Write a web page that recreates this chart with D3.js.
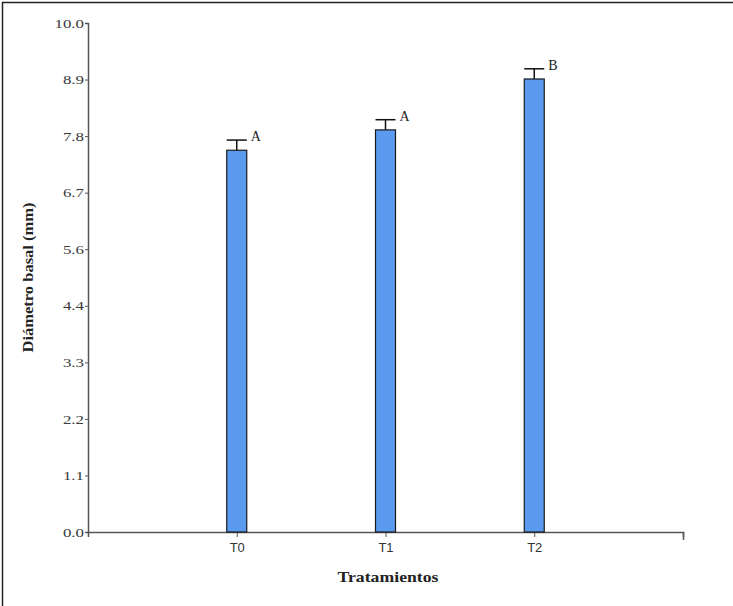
<!DOCTYPE html>
<html>
<head>
<meta charset="utf-8">
<script src="https://cdn.jsdelivr.net/npm/d3@7"></script>
<style>
  body { margin: 0; background: #fff; }
  svg { display: block; }
</style>
</head>
<body>
<div id="chart"></div>
<script>
// data
const treatments = ["T0", "T1", "T2"];
const means = [7.5, 7.9, 8.9];
const errors = [0.2, 0.2, 0.2];
const letters = ["A", "A", "B"];
const yTicks = [0, 10/9, 20/9, 30/9, 40/9, 50/9, 60/9, 70/9, 80/9, 10];

const W = 733, H = 606;
const serif = "'Liberation Serif', 'Times New Roman', serif";
const svg = d3.select("#chart").append("svg")
  .attr("width", W)
  .attr("height", H);

// the source figure is a bit stretched sideways, so widen serif text
function stretch(sel, k) {
  sel.each(function() {
    const len = this.getComputedTextLength();
    d3.select(this).attr("textLength", len * k).attr("lengthAdjust", "spacingAndGlyphs");
  });
}

// picture frame (left + top edges)
svg.append("path")
  .attr("d", `M2.5,${H} L2.5,2.5 L${W},2.5`)
  .attr("fill", "none")
  .attr("stroke", "#222")
  .attr("stroke-width", 1.5);

const x = d3.scaleLinear().domain([0, 4]).range([88, 683]);
const y = d3.scaleLinear().domain([0, 10]).range([532, 23]);
const barW = 20;

// y axis
const yAxis = svg.append("g")
  .attr("transform", `translate(${x(0)},0)`)
  .call(d3.axisLeft(y).tickValues(yTicks).tickSize(3).tickPadding(1)
    .tickFormat(d3.format(".1f")));
yAxis.select(".domain").attr("stroke", "#555").attr("stroke-width", 1.5);
yAxis.selectAll(".tick line").attr("stroke", "#555");
yAxis.selectAll("text")
  .attr("fill", "#3a3a3a")
  .style("font-family", serif)
  .style("font-size", "13px")
  .call(stretch, 1.3);

// x axis
const xAxis = svg.append("g")
  .attr("transform", `translate(0,${y(0)})`)
  .call(d3.axisBottom(x).tickValues([1, 2, 3, 4]).tickSize(5).tickPadding(6)
    .tickFormat((d) => treatments[d - 1] || ""));
xAxis.select(".domain").attr("stroke", "#555").attr("stroke-width", 1.5);
xAxis.selectAll(".tick line").attr("stroke", "#555");
xAxis.selectAll(".tick").filter((d) => d === 4).select("line")
  .attr("y2", 8).attr("stroke-width", 1.5);
xAxis.selectAll("text")
  .attr("fill", "#333")
  .style("font-family", "'Liberation Sans', Arial, sans-serif")
  .style("font-size", "13px");

const items = treatments.map((t, i) => ({ t, i, m: means[i], e: errors[i], l: letters[i] }));

// bars
svg.append("g").selectAll("rect")
  .data(items)
  .enter()
  .append("rect")
  .attr("x", (d) => x(d.i + 1) - barW / 2)
  .attr("y", (d) => y(d.m))
  .attr("width", barW)
  .attr("height", (d) => y(0) - y(d.m))
  .attr("fill", "#5a9bef")
  .attr("stroke", "#1a1a1a")
  .attr("stroke-width", 1.2);

// error bars (upper only)
const eb = svg.append("g").attr("stroke", "#111").attr("stroke-width", 1.5);
eb.selectAll("line.v")
  .data(items)
  .enter()
  .append("line")
  .attr("class", "v")
  .attr("x1", (d) => x(d.i + 1))
  .attr("x2", (d) => x(d.i + 1))
  .attr("y1", (d) => y(d.m))
  .attr("y2", (d) => y(d.m + d.e));
eb.selectAll("line.cap")
  .data(items)
  .enter()
  .append("line")
  .attr("class", "cap")
  .attr("x1", (d) => x(d.i + 1) - barW / 2)
  .attr("x2", (d) => x(d.i + 1) + barW / 2)
  .attr("y1", (d) => y(d.m + d.e))
  .attr("y2", (d) => y(d.m + d.e));

// significance letters
svg.append("g").selectAll("text")
  .data(items)
  .enter()
  .append("text")
  .attr("x", (d) => x(d.i + 1) + barW / 2 + 4)
  .attr("y", (d) => y(d.m + d.e) + 1)
  .text((d) => d.l)
  .attr("fill", "#222")
  .style("font-family", serif)
  .style("font-size", "14px");

// axis titles
svg.append("text")
  .attr("transform", `translate(33,${(y(0) + y(10)) / 2}) rotate(-90)`)
  .attr("text-anchor", "middle")
  .style("font-family", serif)
  .style("font-size", "15px")
  .style("font-weight", "bold")
  .attr("fill", "#222")
  .text("Diámetro basal (mm)")
  .attr("textLength", 150)
  .attr("lengthAdjust", "spacingAndGlyphs");

svg.append("text")
  .attr("x", 388)
  .attr("y", 582)
  .attr("text-anchor", "middle")
  .style("font-family", serif)
  .style("font-size", "15px")
  .style("font-weight", "bold")
  .attr("fill", "#222")
  .text("Tratamientos")
  .attr("textLength", 101)
  .attr("lengthAdjust", "spacingAndGlyphs");
</script>
</body>
</html>
